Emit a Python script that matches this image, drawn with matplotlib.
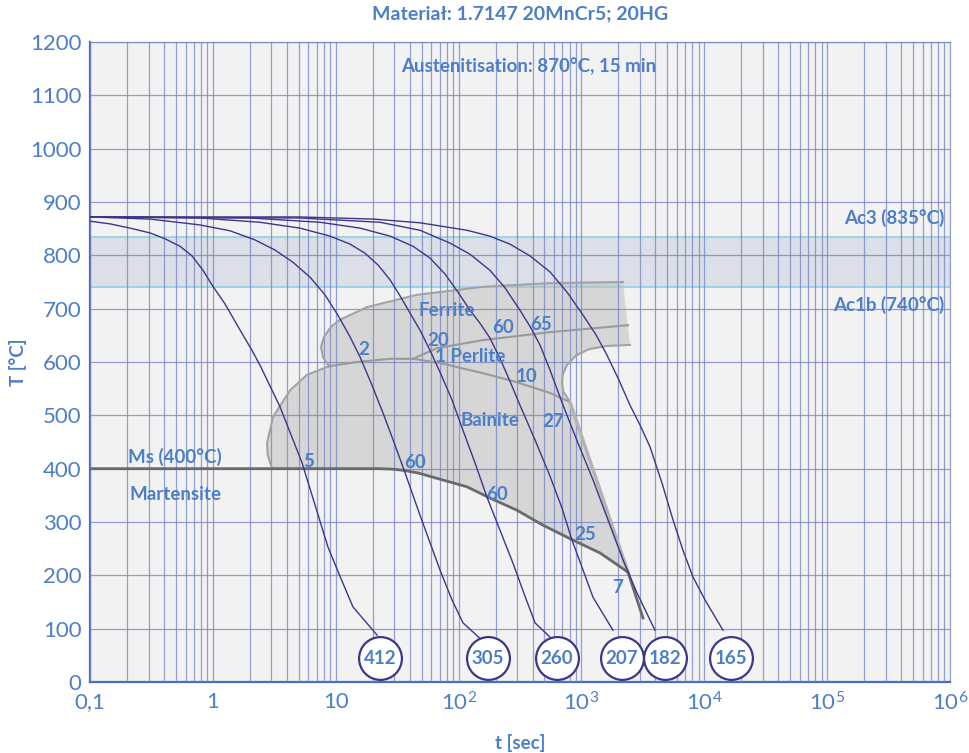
import numpy as np
import matplotlib.pyplot as plt

plt.rcParams['font.family'] = ['Lato', 'DejaVu Sans']
plt.rcParams['mathtext.fontset'] = 'custom'
plt.rcParams['mathtext.rm'] = 'Lato'
plt.rcParams['mathtext.it'] = 'Lato'

BLUE = '#4d7ec8'
NAVY = '#3c3789'
GRID = '#7183c2'

# cooling curves (t in s, T in degC), ending at the hardness circles
t1 = [0.1, 0.1455, 0.212, 0.308, 0.408, 0.54, 0.676, 0.831, 1.0, 1.255, 1.664, 2.08,
      2.42, 3.52, 5.32, 8.65, 10.8, 13.8, 21.7]
T1 = [864, 859, 851, 842, 831, 817, 799, 772, 742, 709, 660, 622,
      594, 516, 411, 253, 199, 141, 88]
t2 = [0.1, 0.308, 0.786, 1.379, 2.20, 3.20, 4.49, 6.18, 8.18, 10.4, 13.1, 15.8, 19.7,
      24.3, 29.3, 35.3, 48.5, 70.6, 88.4, 108.6, 149]
T2 = [872, 868, 857, 846, 829, 810, 787, 759, 726, 688, 647, 609, 557,
      504, 454, 403, 313, 210, 154, 111, 82]
t3 = [0.1, 0.786, 2.42, 5.12, 8.99, 13.1, 17.3, 22.1, 27.7, 33.4, 40.2, 48.5, 58.5,
      70.6, 88.4, 108.6, 136, 170, 217, 277, 347, 419, 555]
T3 = [872, 870, 862, 851, 836, 821, 804, 782, 754, 724, 692, 660, 622,
      581, 529, 472, 411, 347, 285, 223, 161, 111, 84]
t4 = [0.1, 2.01, 7.45, 15.8, 27.7, 42.6, 58.5, 77.5, 98.9, 124, 149, 180, 217, 262,
      316, 419, 555, 695, 838, 1030, 1242, 1806]
T4 = [872, 870, 862, 851, 836, 817, 795, 765, 731, 697, 673, 645, 607, 564,
      519, 454, 386, 326, 266, 210, 159, 97]
t5 = [0.1, 5.12, 22.9, 48.5, 85.2, 124, 180, 239, 316, 381, 460, 555, 708, 938,
      1242, 1645, 2180, 2833, 3970]
T5 = [872, 870, 862, 847, 823, 802, 772, 739, 697, 667, 632, 585, 519, 448,
      379, 304, 229, 167, 97]
t6 = [0.1, 5.12, 20.1, 48.5, 117, 180, 262, 381, 555, 763, 1030, 1314, 1614, 2021,
      2485, 2997, 3614, 4527, 5564, 6706, 8091, 10130, 14200]
T6 = [872, 872, 868, 861, 847, 836, 821, 799, 769, 731, 688, 651, 613, 566,
      519, 482, 441, 373, 304, 247, 197, 154, 97]

# hardness HV at the end of each curve
hv = ['412', '305', '260', '207', '182', '165']
hv_t = [22.9, 174, 633, 2139, 4787, 16500]
hv_T = 45

# phase boundaries
bain_nose_t = [3.03, 2.80, 2.76, 3.09, 4.25, 5.84, 8.82]
bain_nose_T = [400, 425, 448, 497, 547, 576, 592]
ferr_t = [8.82, 7.88, 7.59, 8.03, 9.15, 10.8, 13.1, 18.0, 45.9, 158, 555, 2180]
ferr_T = [592, 609, 628, 647, 666, 679, 688, 703, 726, 741, 748, 750]
pearl_end_t = [2485, 1600, 1150, 900, 760, 705, 695, 712, 806]
pearl_end_T = [632, 630, 624, 612, 594, 577, 560, 545, 525]
bain_top_t = [8.82, 14.9, 27.7, 42.6, 70.6, 158, 299, 555, 806]
bain_top_T = [592, 600, 606, 606, 598, 579, 562, 542, 525]
pearl_start_t = [42.6, 66.7, 158, 555, 2393]
pearl_start_T = [606, 626, 641, 656, 669]
bain_end_t = [806, 2393]
bain_end_T = [525, 206]
ms_t = [0.1, 22.9, 29.3, 35.3, 46.7, 61.9, 85.2, 117, 180, 299, 487, 854, 1416, 2393, 3170]
ms_T = [400, 400, 399, 397, 392, 384, 375, 366, 345, 322, 294, 266, 242, 206, 120]

ac3, ac1 = 835, 740

fig = plt.figure(figsize=(9.7, 7.53), dpi=100)
ax = fig.add_axes([90 / 970, 1 - 682 / 753, 860 / 970, 640 / 753])
ax.set_facecolor('#f2f2f2')
ax.set_xscale('log')
ax.set_xlim(0.1, 1e6)
ax.set_ylim(0, 1200)

ax.grid(True, which='both', axis='x', color=GRID, lw=0.9, alpha=0.75, zorder=1)
ax.grid(True, which='major', axis='y', color=GRID, lw=0.9, alpha=0.75, zorder=1)
ax.set_axisbelow(False)

# Ac1b - Ac3 band
ax.axhspan(ac1, ac3, color='#dcdfe8', zorder=0.5, lw=0)
ax.axhline(ac3, color='#93cde2', lw=1.2, zorder=1.5)
ax.axhline(ac1, color='#93cde2', lw=1.2, zorder=1.5)

# transformation region
ms_back = 2  # Ms points that lie to the right of the bainite end
poly_t = np.concatenate([bain_nose_t, ferr_t, pearl_end_t, bain_end_t[1:],
                         ms_t[-ms_back:0:-1], [bain_nose_t[0]]])
poly_T = np.concatenate([bain_nose_T, ferr_T, pearl_end_T, bain_end_T[1:],
                         ms_T[-ms_back:0:-1], [bain_nose_T[0]]])
ax.fill(poly_t, poly_T, color='#bcbcbc', alpha=0.5, lw=0, zorder=2)

ax.plot(bain_nose_t, bain_nose_T, color='#a3a3a3', lw=1.5, zorder=3)
ax.plot(ferr_t, ferr_T, color='#a3a3a3', lw=1.5, zorder=3)
ax.plot(pearl_end_t, pearl_end_T, color='#a3a3a3', lw=1.5, zorder=3)
ax.plot(bain_top_t, bain_top_T, color='#9a9a9a', lw=1.5, zorder=3)
ax.plot(pearl_start_t, pearl_start_T, color='#9a9a9a', lw=1.5, zorder=3)
ax.plot(bain_end_t, bain_end_T, color='#b4b4b4', lw=2.5, zorder=3)
ax.plot(ms_t, ms_T, color='#6a6a6a', lw=2, zorder=4)

for t, T in [(t1, T1), (t2, T2), (t3, T3), (t4, T4), (t5, T5), (t6, T6)]:
    ax.plot(t, T, color=NAVY, lw=1.0, zorder=5)

ax.scatter(hv_t, [hv_T] * len(hv_t), s=950, facecolor='white', edgecolor=NAVY,
           linewidth=1.6, zorder=6, clip_on=False)
for t, h in zip(hv_t, hv):
    ax.text(t, hv_T, h, ha='center', va='center', color=BLUE, fontsize=13.5,
            fontweight='bold', zorder=7)

lab = dict(color=BLUE, fontsize=13.5, fontweight='bold', ha='center', va='center', zorder=7)
ax.text(80.5, 696, 'Ferrite', **lab)
ax.text(68, 641, '20', **lab)
ax.text(124, 611, '1 Perlite', **lab)
ax.text(230, 664, '60', **lab)
ax.text(469, 671, '65', **lab)
ax.text(17.0, 624, '2', **lab)
ax.text(360, 572, '10', **lab)
ax.text(180, 491, 'Bainite', **lab)
ax.text(587, 489, '27', **lab)
ax.text(6.06, 414, '5', **lab)
ax.text(44.2, 412, '60', **lab)
ax.text(205, 352, '60', **lab)
ax.text(1069, 276, '25', **lab)
ax.text(1984, 178, '7', **lab)
ax.text(0.492, 422, 'Ms (400°C)', **lab)
ax.text(0.5, 352, 'Martensite', **lab)
ax.text(0.51, 1155, 'Austenitisation: 870°C, 15 min', transform=ax.get_yaxis_transform(),
        **lab)
ax.text(0.994, 870, 'Ac3 (835°C)', transform=ax.get_yaxis_transform(),
        **{**lab, 'ha': 'right'})
ax.text(0.994, 707, 'Ac1b (740°C)', transform=ax.get_yaxis_transform(),
        **{**lab, 'ha': 'right'})

ax.set_yticks(np.arange(0, 1201, 100))
ax.set_xticks([0.1, 1, 10, 100, 1e3, 1e4, 1e5, 1e6])
ax.set_xticklabels(['0,1', '1', '10', r'$10^2$', r'$10^3$', r'$10^4$', r'$10^5$', r'$10^6$'])
ax.tick_params(axis='both', which='both', length=0, labelsize=16, labelcolor=BLUE)
ax.tick_params(axis='x', pad=7)
ax.tick_params(axis='y', pad=6)

for side in ['left', 'bottom']:
    ax.spines[side].set_color('#4a6cc0')
    ax.spines[side].set_linewidth(1.6)
for side in ['top', 'right']:
    ax.spines[side].set_color(GRID)
    ax.spines[side].set_alpha(0.75)
    ax.spines[side].set_linewidth(0.9)

ax.set_xlabel('t [sec]', color=BLUE, fontsize=13.5, fontweight='bold', labelpad=14)
ax.set_ylabel('T [°C]', color=BLUE, fontsize=13.5, fontweight='bold', labelpad=2)

fig.text(0.536, 1 - 14 / 753, 'Materiał: 1.7147 20MnCr5; 20HG', color=BLUE,
         fontsize=14, fontweight='bold', ha='center', va='center')

fig.savefig('out.png', dpi=100, facecolor='white')
